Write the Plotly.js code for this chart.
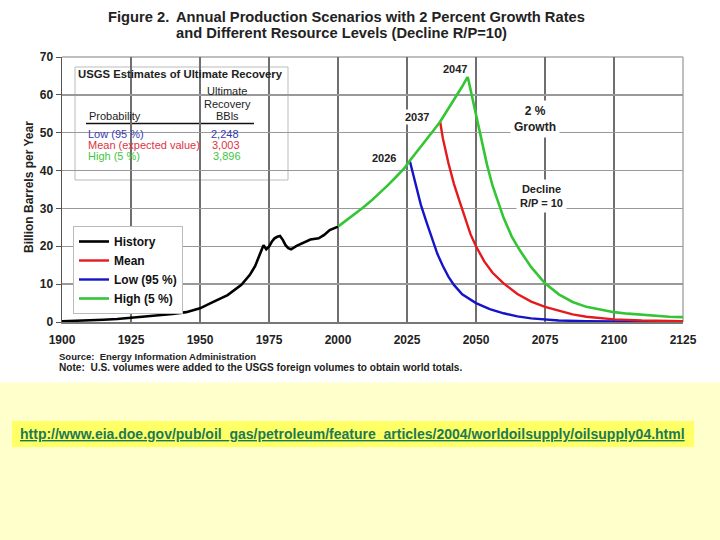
<!DOCTYPE html>
<html>
<head>
<meta charset="utf-8">
<script src="https://cdn.plot.ly/plotly-3.0.1.min.js"></script>
<style>
html,body{margin:0;padding:0;background:#fff;}
#chart{width:720px;height:540px;}
</style>
</head>
<body>
<div id="chart"></div>
<script>
// ---------- data ----------
const histYears = [1900,1905,1910,1915,1920,1925,1930,1935,1940,1945,1950,1955,1960,1965,1968,1970,1972,1973,1974,1975,1976,1977,1978,1979,1980,1981,1982,1983,1985,1988,1990,1993,1995,1997,2000];
const histVals  = [0.2,0.3,0.4,0.6,0.8,1.1,1.5,1.7,2.1,2.6,3.6,5.4,7.1,9.8,12.4,14.8,18.3,20.3,19.2,19.9,21.2,22.1,22.5,22.7,21.7,20.3,19.5,19.2,20.1,21.2,21.8,22.1,23.0,24.3,25.2];

const growthYears = [2000,2003,2006,2009,2012,2015,2018,2021,2024,2026,2029,2032,2035,2037,2040,2043,2045,2047];
const growthVals  = [25.2,26.8,28.4,30.2,32.0,34.0,36.1,38.3,40.6,42.6,45.3,48.0,51.0,52.9,56.3,59.8,62.2,64.8];

const highDeclineYears = [2048,2049,2050,2052,2054,2056,2058,2060,2063,2066,2070,2075,2080,2085,2090,2095,2100,2105,2110,2115,2120,2125];
const highDeclineVals  = [61.5,57.5,54.0,47.5,41.5,36.0,31.5,27.5,22.5,18.8,14.5,10.2,7.3,5.3,4.0,3.2,2.6,2.2,1.9,1.6,1.4,1.3];

const meanYears = [2037,2038,2040,2042,2044,2046,2048,2050,2053,2056,2060,2065,2070,2075,2080,2085,2090,2095,2100,2110,2125];
const meanVals  = [52.9,48.5,42.0,36.5,32.0,27.3,23.2,20.0,16.0,13.0,10.2,7.4,5.4,4.0,2.9,2.0,1.4,1.0,0.7,0.4,0.2];

const lowYears = [2026,2027,2028,2029,2030,2032,2034,2036,2038,2040,2042,2045,2050,2055,2060,2065,2070,2075,2080,2090,2100,2125];
const lowVals  = [42.6,39.5,36.8,33.8,31.0,26.5,22.0,18.0,14.8,12.0,9.8,7.3,5.0,3.4,2.3,1.5,0.95,0.6,0.4,0.2,0.1,0.03];

const seriesNames = ["History","Mean","Low (95 %)","High (5 %)"];
const xTicks = [1900,1925,1950,1975,2000,2025,2050,2075,2100,2125];
const yTicks = [0,10,20,30,40,50,60,70];

const tableRows = ["Low (95 %)","Mean (expected value)","High (5 %)"];
const tableValues = ["2,248","3,003","3,896"];

// ---------- layout helpers ----------
const L = 62, T = 57, W = 621, H = 265;
const px = x => (x - L) / W;
const py = y => (T + H - y) / H;
const FONT = "Arial, 'Liberation Sans', sans-serif";

const cRed = "#e41a1c", cBlue = "#1414c8", cGreen = "#33c533";
const cLowT = "#3a3ab4", cMeanT = "#dd3344", cHighT = "#3fc63f";

const traces = [
  {x: histYears, y: histVals, name: seriesNames[0], mode: "lines", line: {color: "#000", width: 2.6}, legendrank: 1},
  {x: lowYears, y: lowVals, name: seriesNames[2], mode: "lines", line: {color: cBlue, width: 2.4}, legendrank: 3},
  {x: meanYears, y: meanVals, name: seriesNames[1], mode: "lines", line: {color: cRed, width: 2.4}, legendrank: 2},
  {x: growthYears.concat(highDeclineYears), y: growthVals.concat(highDeclineVals), name: seriesNames[3], mode: "lines", line: {color: cGreen, width: 2.6}, legendrank: 4}
];

function txt(text, x, y, size, opts) {
  return Object.assign({
    text: text, xref: "paper", yref: "paper", x: px(x), y: py(y),
    xanchor: "left", yanchor: "middle", showarrow: false,
    font: {family: FONT, size: size, color: "#222"}
  }, opts || {});
}

const annotations = [
  // title
  txt("<b>Figure 2.</b>", 106, 17, 14.7),
  txt("<b>Annual Production Scenarios with 2 Percent Growth Rates</b>", 174, 17, 14.7),
  txt("<b>and Different Resource Levels (Decline R/P=10)</b>", 174, 33, 14.7),
  // y axis title
  txt("<b>Billion Barrels per Year</b>", 29, 187, 12, {xanchor: "center", textangle: -90}),
  // table inset
  txt("<b>USGS Estimates of Ultimate Recovery</b>", 76, 74, 11.3),
  txt("Ultimate", 227, 91, 11, {xanchor: "center"}),
  txt("Recovery", 227, 103.5, 11, {xanchor: "center"}),
  txt("BBls", 227, 116, 11, {xanchor: "center"}),
  txt("Probability", 87, 116, 11),
  txt(tableRows[0], 86, 134, 11, {font: {family: FONT, size: 11, color: cLowT}}),
  txt(tableRows[1], 86, 145, 11, {font: {family: FONT, size: 11, color: cMeanT}}),
  txt(tableRows[2], 86, 156, 11, {font: {family: FONT, size: 11, color: cHighT}}),
  txt(tableValues[0], 241, 134, 11, {xanchor: "right", font: {family: FONT, size: 11, color: cLowT}}),
  txt(tableValues[1], 242, 145, 11, {xanchor: "right", font: {family: FONT, size: 11, color: cMeanT}}),
  txt(tableValues[2], 243, 156, 11, {xanchor: "right", font: {family: FONT, size: 11, color: cHighT}}),
  // point labels
  txt("<b>2047</b>", 455, 69, 11, {xanchor: "center", bgcolor: "#fff"}),
  txt("<b>2037</b>", 417, 117, 11, {xanchor: "center", bgcolor: "#fff"}),
  txt("<b>2026</b>", 384, 158, 11, {xanchor: "center", bgcolor: "#fff"}),
  txt("<b>2 %<br>Growth</b>", 535, 119, 12, {xanchor: "center", bgcolor: "#fff", borderpad: 3}),
  txt("<b>Decline<br>R/P = 10</b>", 541, 196, 11, {xanchor: "center", bgcolor: "#fff", borderpad: 3}),
  // source / note
  txt("<b>Source:  Energy Information Administration</b>", 57, 356, 9.5),
  txt("<b>Note:  U.S. volumes were added to the USGS foreign volumes to obtain world totals.</b>", 57, 367, 10.1),
  // URL
  txt("<b><u>http://www.eia.doe.gov/pub/oil_gas/petroleum/feature_articles/2004/worldoilsupply/oilsupply04.html</u></b>", 352, 433.5, 14, {xanchor: "center", font: {family: FONT, size: 14, color: "#1b7a55"}})
];

const shapes = [
  // yellow lower panel
  {type: "rect", xref: "paper", yref: "paper", x0: px(-5), x1: px(725), y0: py(545), y1: py(382.5), fillcolor: "#ffffcc", line: {width: 0}, layer: "below"},
  // URL box
  {type: "rect", xref: "paper", yref: "paper", x0: px(12), x1: px(694), y0: py(447), y1: py(421), fillcolor: "#ffff66", line: {width: 0}, layer: "below"},
  // plot frame top/right
  {type: "line", xref: "paper", yref: "paper", x0: 0, x1: 1, y0: 1, y1: 1, line: {color: "#aaa", width: 1.5}, layer: "between"},
  {type: "line", xref: "paper", yref: "paper", x0: 1, x1: 1, y0: 0, y1: 1, line: {color: "#aaa", width: 1.5}, layer: "between"},
  // table inset box
  {type: "rect", xref: "paper", yref: "paper", x0: px(75), x1: px(288), y0: py(180), y1: py(67), fillcolor: "#fff", line: {color: "#bbb", width: 1}, layer: "between"},
  {type: "line", xref: "paper", yref: "paper", x0: px(86), x1: px(254), y0: py(123.5), y1: py(123.5), line: {color: "#111", width: 1.5}, layer: "between"}
];

const layout = {
  width: 720, height: 540,
  margin: {l: L, r: 720 - L - W, t: T, b: 540 - T - H, pad: 0},
  paper_bgcolor: "#fff", plot_bgcolor: "#fff",
  font: {family: FONT, color: "#222"},
  showlegend: true,
  legend: {
    x: px(73), y: py(226), xanchor: "left", yanchor: "top",
    bgcolor: "#fff", bordercolor: "#bbb", borderwidth: 1,
    font: {family: FONT, size: 12, color: "#111", weight: "bold"},
    tracegroupgap: 0, itemwidth: 30
  },
  xaxis: {
    range: [1900, 2125], tickvals: xTicks, ticktext: xTicks.map(String),
    showgrid: true, gridcolor: "#6f6f6f", gridwidth: 1.3,
    showline: true, linecolor: "#777", linewidth: 1.5,
    zeroline: false, ticks: "outside", ticklen: 6, tickcolor: "rgba(0,0,0,0)",
    tickfont: {family: FONT, size: 12, color: "#222", weight: "bold"},
    fixedrange: true
  },
  yaxis: {
    range: [0, 70], tickvals: yTicks, ticktext: yTicks.map(String),
    showgrid: true, gridcolor: "#999", gridwidth: 1.5,
    showline: true, linecolor: "#555", linewidth: 1.5,
    zeroline: false, ticks: "outside", ticklen: 5, tickcolor: "#555",
    tickfont: {family: FONT, size: 12, color: "#222", weight: "bold"},
    fixedrange: true
  },
  annotations: annotations,
  shapes: shapes
};

Plotly.newPlot("chart", traces, layout, {displayModeBar: false, staticPlot: true});
</script>
</body>
</html>
